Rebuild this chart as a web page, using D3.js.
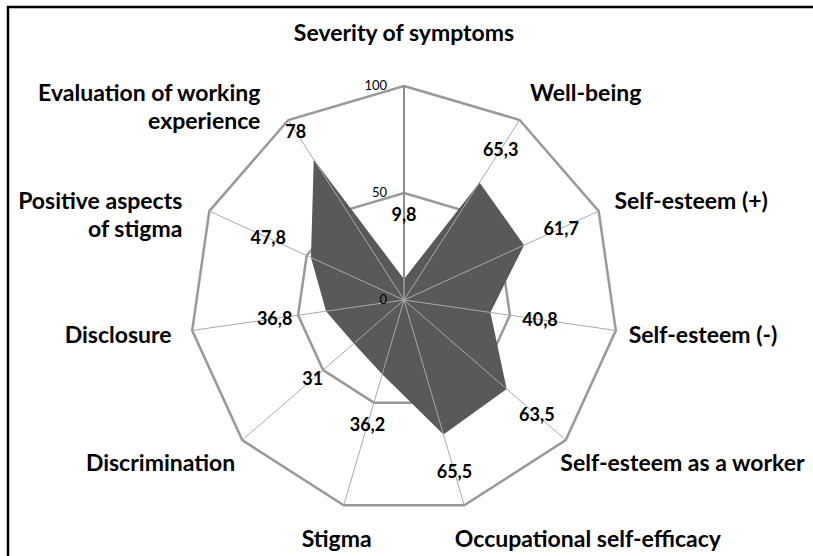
<script src="https://cdn.jsdelivr.net/npm/d3@7"></script>
<body style="margin:0">
<script>
    // Data
    var categories = ["Severity of symptoms", "Well-being", "Self-esteem (+)", "Self-esteem (-)",
        "Self-esteem as a worker", "Occupational self-efficacy", "Stigma", "Discrimination",
        "Disclosure", "Positive aspects\nof stigma", "Evaluation of working\nexperience"];
    var values = [9.8, 65.3, 61.7, 40.8, 63.5, 65.5, 36.2, 31, 36.8, 47.8, 78];
    var valueLabels = ["9,8", "65,3", "61,7", "40,8", "63,5", "65,5", "36,2", "31", "36,8", "47,8", "78"];
    var ringLevels = [50, 100];
    var tickValues = [0, 50, 100];

    // SVG dimensions
    var SVGWidth = 813, SVGHeight = 556;
    var cx = 404, cy = 300, R = 214;
    var font = "Lato, 'Open Sans', sans-serif";

    var svg = d3.select("body").append("svg")
        .attr("width", SVGWidth)
        .attr("height", SVGHeight)
        .style("background", "white");

    // chart border (runs off the right and bottom)
    svg.append("rect")
        .attr("x", 8).attr("y", 7)
        .attr("width", 830).attr("height", 580)
        .attr("fill", "none")
        .attr("stroke", "#000")
        .attr("stroke-width", 2.5);

    var g = svg.append("g").attr("transform", "translate(" + cx + "," + cy + ")");

    var r = d3.scaleLinear().domain([0, 100]).range([0, R]);
    var n = categories.length;
    var angle = d3.scaleLinear().domain([0, n]).range([0, 2 * Math.PI]);

    function pt(i, rad) {
        var a = angle(i);
        return [rad * Math.sin(a), -rad * Math.cos(a)];
    }

    var radial = d3.lineRadial()
        .angle(function(d, i) { return angle(i); })
        .radius(function(d) { return r(d); })
        .curve(d3.curveLinearClosed);

    // Rings
    ringLevels.forEach(function(lv) {
        g.append("path")
            .attr("d", radial(categories.map(function() { return lv; })))
            .attr("fill", "none")
            .attr("stroke", "#999")
            .attr("stroke-width", 2.5);
    });

    // Series area
    g.append("path")
        .attr("d", radial(values))
        .attr("fill", "#595959");

    // Spokes
    g.selectAll(".spoke")
        .data(categories)
        .enter().append("line")
        .attr("class", "spoke")
        .attr("x1", 0).attr("y1", 0)
        .attr("x2", function(d, i) { return pt(i, R)[0]; })
        .attr("y2", function(d, i) { return pt(i, R)[1]; })
        .attr("stroke", function(d, i) { return i === 0 ? "#8c8c8c" : "#a9a9a9"; })
        .attr("stroke-width", function(d, i) { return i === 0 ? 2 : 1; });

    // Value axis ticks
    g.selectAll(".tick")
        .data(tickValues)
        .enter().append("text")
        .attr("x", -17)
        .attr("y", function(d) { return -r(d) - 1; })
        .attr("dy", "0.35em")
        .attr("text-anchor", "end")
        .style("font", "13px " + font)
        .text(function(d) { return d; });

    // Data labels along the spokes, a bit outside the point
    function labelR(v) { return r(32 + 0.79 * v); }
    g.selectAll(".vlabel")
        .data(values)
        .enter().append("text")
        .attr("x", function(d, i) { return pt(i, labelR(d))[0]; })
        .attr("y", function(d, i) { return pt(i, labelR(d))[1]; })
        .attr("dy", "0.35em")
        .attr("text-anchor", "middle")
        .style("font", "bold 18px " + font)
        .text(function(d, i) { return valueLabels[i]; });

    // Category labels
    var lineH = 28;
    categories.forEach(function(c, i) {
        var a = angle(i);
        var s = Math.sin(a), co = Math.cos(a);
        var pad = 25 + 28 * Math.pow(Math.max(0, co), 8);
        var p = pt(i, R + pad);
        var anchor = s > 0.1 ? "start" : (s < -0.5 ? "end" : "middle");
        var x = p[0], y = p[1] + 10 * Math.max(0, -co);
        if (anchor === "start") x += -7 - 35 * Math.max(0, -co) * s;
        if (anchor === "end") x += 15 * (-co) + 2;
        var lines = c.split("\n");
        var t = g.append("text")
            .attr("text-anchor", anchor)
            .style("font", "bold 23px " + font);
        lines.forEach(function(l, k) {
            t.append("tspan")
                .attr("x", x)
                .attr("y", y + k * lineH)
                .attr("dy", "0.35em")
                .text(l);
        });
    });
</script>
</body>
